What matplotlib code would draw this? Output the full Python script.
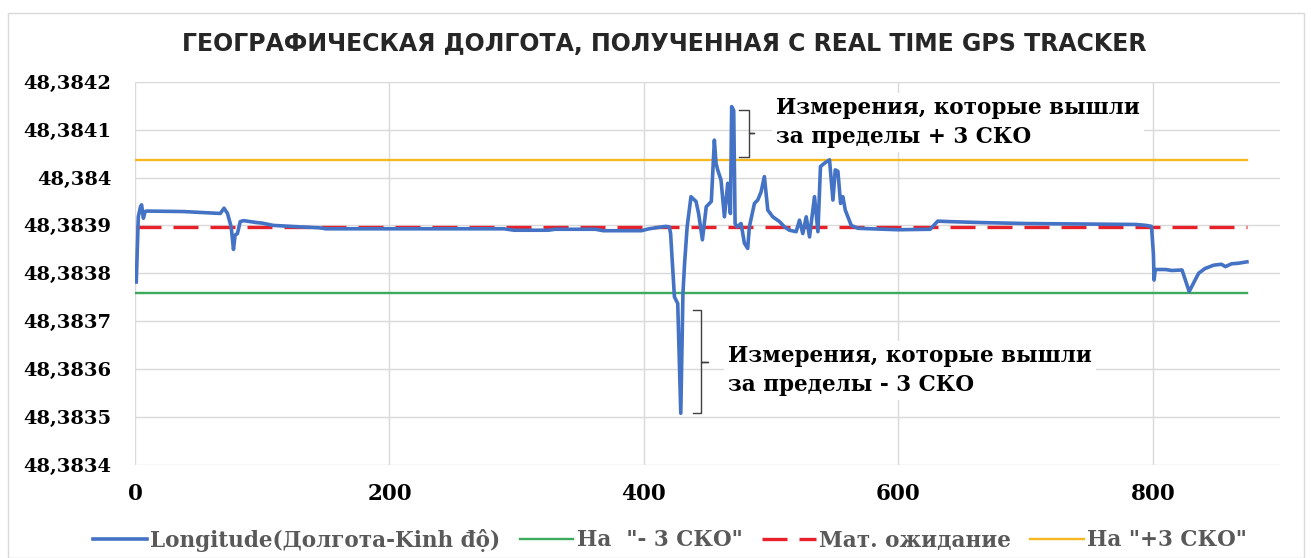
import matplotlib
matplotlib.use("Agg")
import matplotlib.pyplot as plt
from matplotlib.patches import Rectangle
from matplotlib.ticker import FuncFormatter, MultipleLocator

idx = [1, 2.6, 4.3, 5.2, 6.6, 7.9, 9.2, 38, 67, 70, 72.7, 75.6, 77.4, 78.7,
       80.5, 82.7, 85.3, 95.8, 99.7, 108.9, 130, 145, 150, 290, 298, 325,
       330, 362, 368, 398, 404, 417, 420, 421, 424, 426.6, 429, 430.7, 432,
       434, 437, 441, 443, 446, 449, 453, 455.4, 456.7, 458, 460.6, 463.3,
       465.9, 468, 469, 470.6, 471.7, 473.2, 476.4, 479, 481.6, 482.9, 486.9,
       489.5, 492.1, 494.7, 497.4, 501.3, 506.6, 510.5, 514.4, 519.7, 522.3,
       524.9, 527.6, 530.2, 534.1, 536.8, 538.8, 542, 545.9, 548.6, 550.4,
       552.5, 554.6, 556.4, 558.3, 563, 568.3, 600, 625, 631, 640, 665, 700,
       787, 795, 799, 800.5, 801, 802, 810, 815, 823, 828.6, 836, 841, 847.8,
       854, 857, 862, 867, 874]
longitude = [48.383782, 48.383918, 48.383939, 48.383943, 48.383915, 48.383929,
             48.383930, 48.383929, 48.383925, 48.383936, 48.383925, 48.383897,
             48.383850, 48.383880, 48.383883, 48.383908, 48.383910, 48.383906,
             48.383905, 48.383900, 48.383897, 48.383895, 48.383893, 48.383893,
             48.383890, 48.383890, 48.383892, 48.383892, 48.383889, 48.383889,
             48.383893, 48.383898, 48.383897, 48.383883, 48.383751, 48.383737,
             48.383508, 48.383758, 48.383821, 48.383897, 48.383960, 48.383950,
             48.383925, 48.383870, 48.383939, 48.383950, 48.384078, 48.384030,
             48.384016, 48.383995, 48.383918, 48.383988, 48.383925, 48.384148,
             48.384140, 48.383904, 48.383897, 48.383904, 48.383863, 48.383852,
             48.383897, 48.383946, 48.383953, 48.383970, 48.384002, 48.383932,
             48.383918, 48.383908, 48.383897, 48.383890, 48.383887, 48.383911,
             48.383883, 48.383918, 48.383876, 48.383960, 48.383887, 48.384023,
             48.384030, 48.384037, 48.383953, 48.384016, 48.384013, 48.383946,
             48.383960, 48.383932, 48.383900, 48.383894, 48.383891, 48.383892,
             48.383909, 48.383908, 48.383906, 48.383904, 48.383902, 48.383900,
             48.383898, 48.383840, 48.383786, 48.383808, 48.383808, 48.383806,
             48.383807, 48.383762, 48.383800, 48.383810, 48.383817, 48.383819,
             48.383814, 48.383820, 48.383821, 48.383824]

level_x = [1, 874]
mean_value = 48.383897
minus_3sko = 48.383758
plus_3sko = 48.384036

labels = ["Longitude(Долгота-Kinh độ)", 'На  "- 3 СКО"', "Мат. ожидание", 'На "+3 СКО"']
title = "ГЕОГРАФИЧЕСКАЯ ДОЛГОТА, ПОЛУЧЕННАЯ С REAL TIME GPS TRACKER"
note_up = "Измерения, которые вышли\nза пределы + 3 СКО"
note_down = "Измерения, которые вышли\nза пределы - 3 СКО"

SERIF = "DejaVu Serif"

W, H = 1311, 558
fig = plt.figure(figsize=(W / 100, H / 100), dpi=100)
fig.patches.append(Rectangle((8 / W, 0), 1296 / W, 1 - 13 / H, transform=fig.transFigure,
                             fill=False, edgecolor="#d9d9d9", linewidth=1.0))

ax = fig.add_axes([135 / W, 1 - 465 / H, (1280 - 135) / W, (465 - 81.7) / H])

ax.plot(idx, longitude, color="#4472C4", linewidth=2.6, label=labels[0], zorder=4)
ax.plot(level_x, [minus_3sko] * 2, color="#3BAA5C", linewidth=1.7, label=labels[1], zorder=3)
ax.plot(level_x, [mean_value] * 2, color="#E8202A", linewidth=2.4, dashes=(7.5, 3.6),
        label=labels[2], zorder=3)
ax.plot(level_x, [plus_3sko] * 2, color="#F5B820", linewidth=1.7, label=labels[3], zorder=3)

ax.set_xlim(0, 900)
ax.set_ylim(48.3834, 48.3842)
ax.xaxis.set_major_locator(MultipleLocator(200))
ax.yaxis.set_major_locator(MultipleLocator(0.0001))
ax.yaxis.set_major_formatter(
    FuncFormatter(lambda v, p: f"{v:.4f}".rstrip("0").replace(".", ",")))
ax.set_axisbelow(True)
ax.grid(True, color="#d9d9d9", linewidth=1.0)
for s in ax.spines.values():
    s.set_visible(False)
ax.tick_params(length=0)
ax.tick_params(axis="y", pad=17)
ax.tick_params(axis="x", pad=13)
for t in ax.get_yticklabels():
    t.set_fontfamily(SERIF)
    t.set_fontweight("bold")
    t.set_fontsize(14)
for t in ax.get_xticklabels():
    t.set_fontfamily(SERIF)
    t.set_fontweight("bold")
    t.set_fontsize(15.5)

fig.text(664 / W, 1 - 44 / H, title, ha="center", va="center", fontsize=17,
         fontweight="bold", color="#262626", family="DejaVu Sans")

box = dict(facecolor="white", edgecolor="none", pad=3)
ax.text(504, 48.384115, note_up, ha="left", va="center", fontsize=15.5,
        fontweight="bold", family=SERIF, linespacing=1.4, bbox=box, zorder=1.5)
ax.text(466, 48.383598, note_down, ha="left", va="center", fontsize=15.5,
        fontweight="bold", family=SERIF, linespacing=1.4, bbox=box, zorder=1.5)

# braces
ax.plot([475, 482.7, 482.7, 486.6, 482.7, 482.7, 475],
        [48.384141, 48.384141, 48.384093, 48.384093, 48.384093, 48.384043, 48.384043],
        color="#404040", linewidth=1.0, zorder=5)
ax.plot([438.6, 444.9, 444.9, 450.4, 444.9, 444.9, 438.6],
        [48.383723, 48.383723, 48.383615, 48.383615, 48.383615, 48.383508, 48.383508],
        color="#404040", linewidth=1.0, zorder=5)

fig.legend(loc="center", bbox_to_anchor=(670 / W, 1 - 540 / H), ncol=4, frameon=False,
           prop={"family": SERIF, "weight": "bold", "size": 15.5}, labelcolor="#595959",
           handlelength=2.5, handletextpad=0.15, columnspacing=0.9)

fig.savefig("out.png", dpi=100, facecolor="white")
